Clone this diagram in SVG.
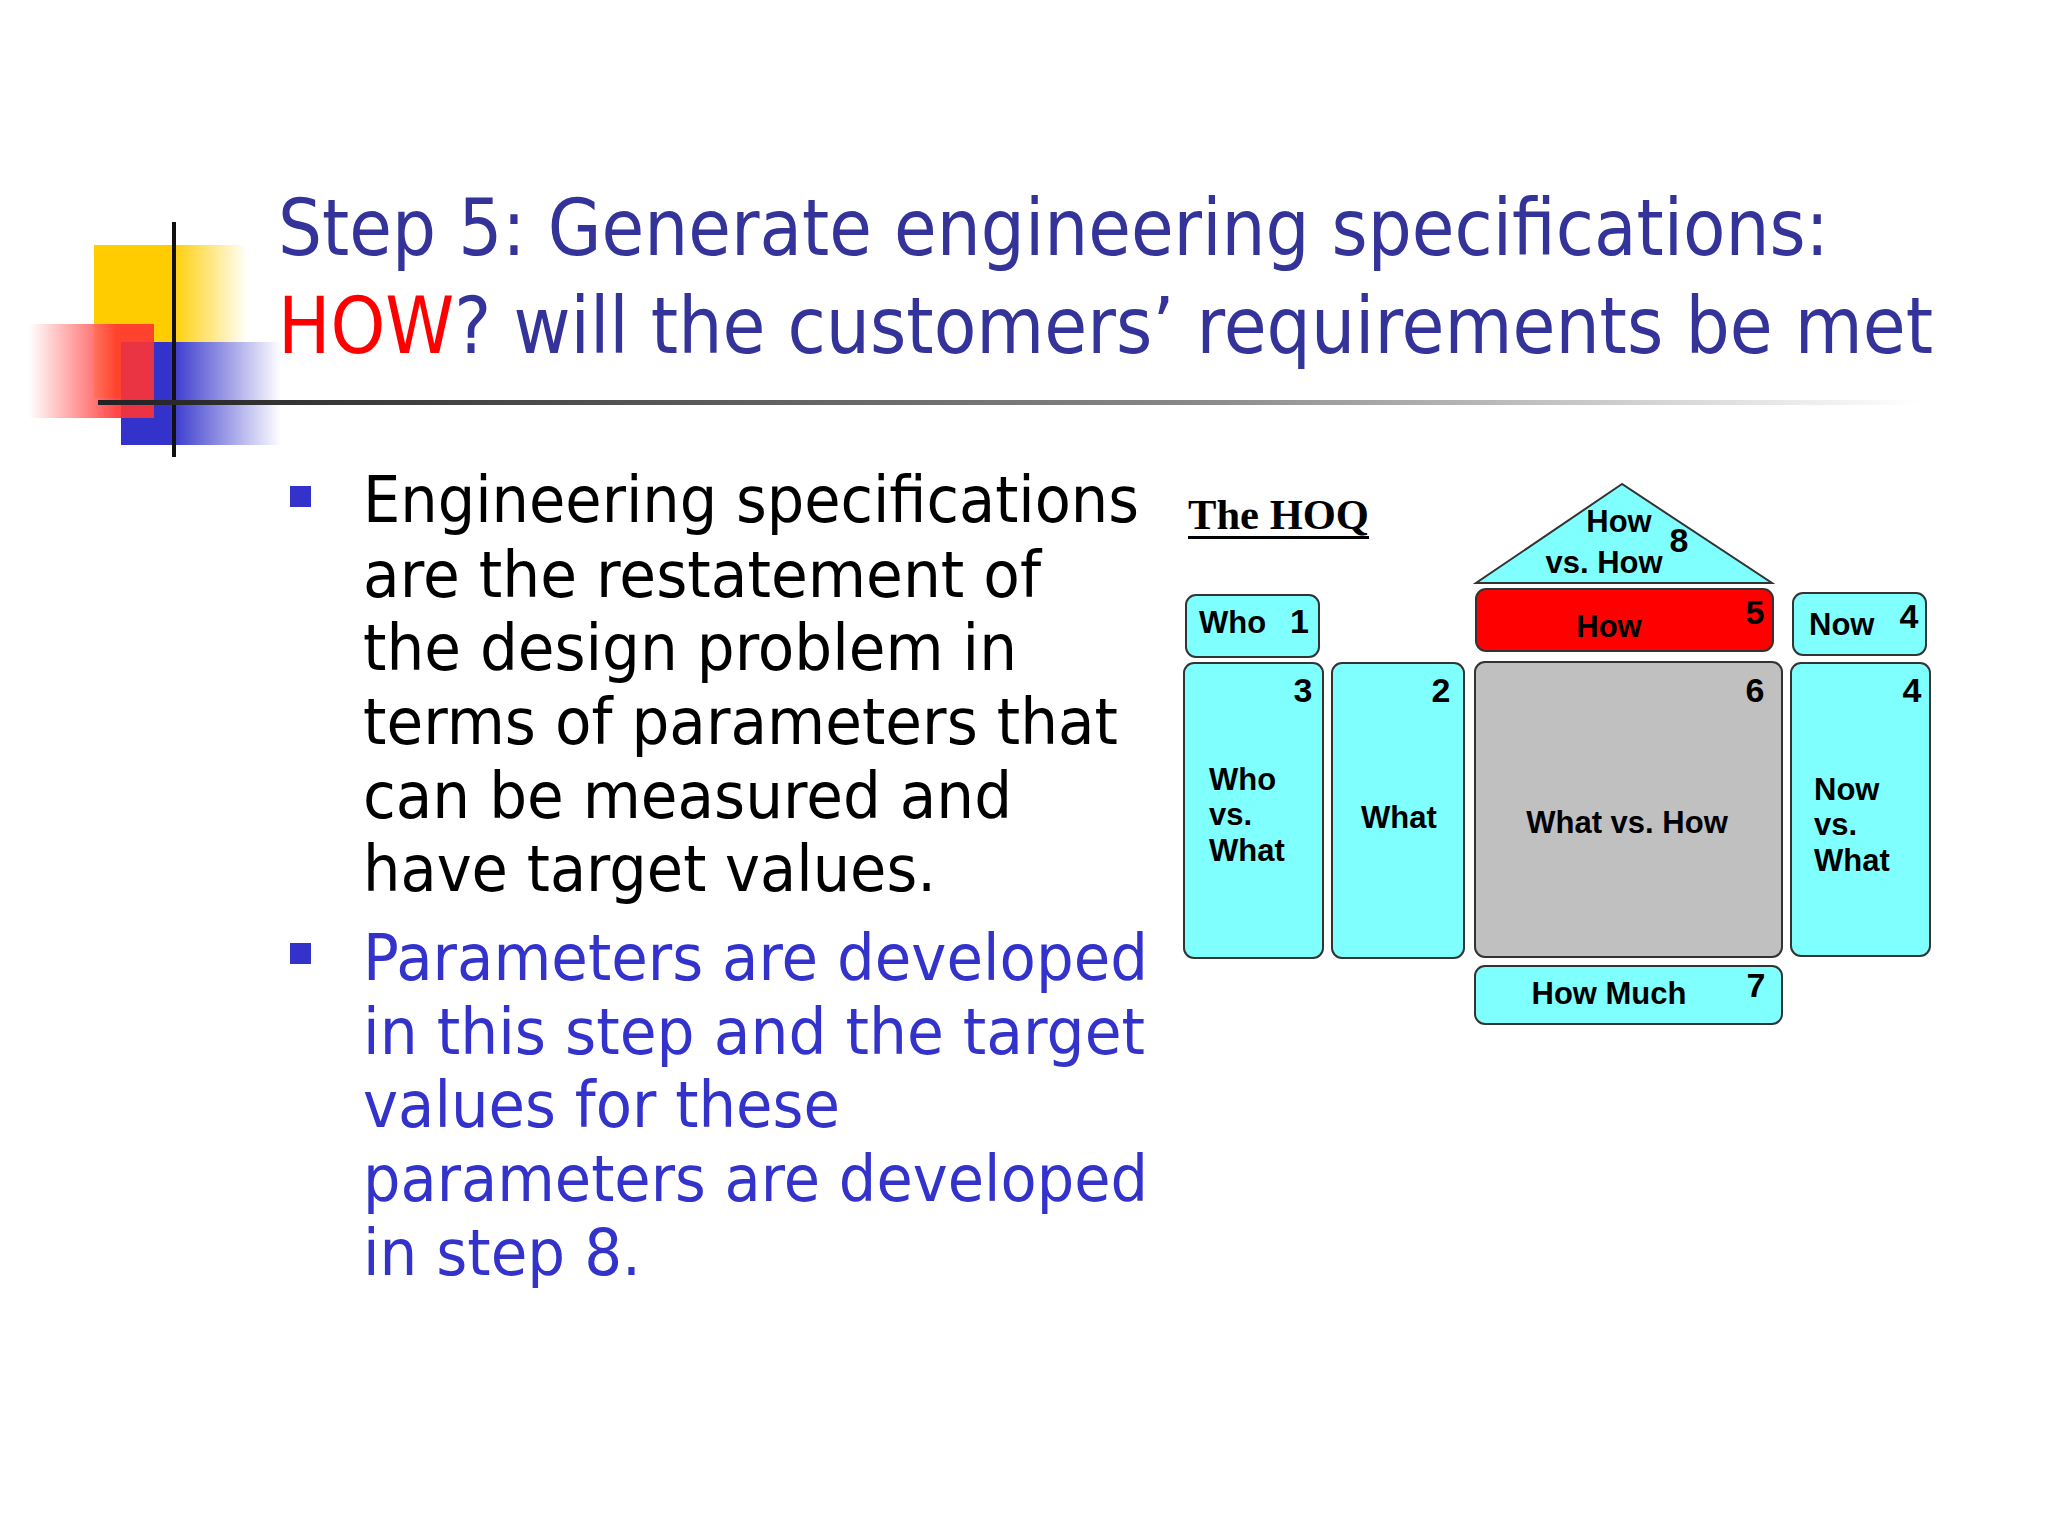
<svg xmlns="http://www.w3.org/2000/svg" width="2048" height="1536" viewBox="0 0 2048 1536">
<style>
.t{font-family:"DejaVu Sans","Noto Sans",sans-serif;font-size:78px;fill:#333399}
.b{font-family:"DejaVu Sans","Noto Sans",sans-serif;font-size:64px;fill:#000}
.b2{fill:#3333cc}
.box{fill:#80ffff;stroke:#333;stroke-width:2}
.h{font-family:"Liberation Sans",Arial,sans-serif;font-weight:bold;font-size:31px;fill:#000}
.n{font-family:"Liberation Sans",Arial,sans-serif;font-weight:bold;font-size:34px;fill:#000}
</style>
<defs>
<linearGradient id="gl" x1="0" x2="1"><stop offset="0" stop-color="#222"/><stop offset="0.6" stop-color="#888"/><stop offset="1" stop-color="#fff"/></linearGradient>
<linearGradient id="gy" x1="0" x2="1"><stop offset="0.5" stop-color="#ffcc00"/><stop offset="1" stop-color="#fff"/></linearGradient>
<linearGradient id="gr" x1="1" x2="0"><stop offset="0.3" stop-color="#ff3333"/><stop offset="1" stop-color="#fff"/></linearGradient>
<linearGradient id="gb" x1="0" x2="1"><stop offset="0.3" stop-color="#3333cc"/><stop offset="1" stop-color="#fff"/></linearGradient>
</defs>
<rect width="2048" height="1536" fill="#fff"/>
<g id="decor">
<rect x="94" y="245" width="154" height="153" fill="url(#gy)"/>
<rect x="121" y="342" width="160" height="103" fill="url(#gb)"/>
<rect x="29" y="324" width="125" height="94" fill="url(#gr)" opacity="0.9"/>
<rect x="172" y="222" width="4" height="235" fill="#111"/>
<rect x="98" y="400" width="1822" height="5" fill="url(#gl)"/>
</g>
<g id="title">
<text class="t" x="278" y="255" textLength="1551" lengthAdjust="spacingAndGlyphs">Step 5: Generate engineering specifications:</text>
<text class="t" x="278" y="353" textLength="1655" lengthAdjust="spacingAndGlyphs"><tspan fill="#ff0000">HOW</tspan>? will the customers’ requirements be met</text>
</g>
<g id="bullets">
<rect x="290" y="486" width="21" height="21" fill="#3333cc"/>
<rect x="290" y="943" width="21" height="21" fill="#3333cc"/>
<text class="b" x="363" y="522" textLength="776" lengthAdjust="spacingAndGlyphs">Engineering specifications</text>
<text class="b" x="363" y="597" textLength="678" lengthAdjust="spacingAndGlyphs">are the restatement of</text>
<text class="b" x="363" y="670" textLength="654" lengthAdjust="spacingAndGlyphs">the design problem in</text>
<text class="b" x="363" y="744" textLength="755" lengthAdjust="spacingAndGlyphs">terms of parameters that</text>
<text class="b" x="363" y="818" textLength="649" lengthAdjust="spacingAndGlyphs">can be measured and</text>
<text class="b" x="363" y="891" textLength="573" lengthAdjust="spacingAndGlyphs">have target values.</text>
<text class="b b2" x="363" y="980" textLength="785" lengthAdjust="spacingAndGlyphs">Parameters are developed</text>
<text class="b b2" x="363" y="1054" textLength="782" lengthAdjust="spacingAndGlyphs">in this step and the target</text>
<text class="b b2" x="363" y="1127" textLength="477" lengthAdjust="spacingAndGlyphs">values for these</text>
<text class="b b2" x="363" y="1201" textLength="785" lengthAdjust="spacingAndGlyphs">parameters are developed</text>
<text class="b b2" x="363" y="1275" textLength="278" lengthAdjust="spacingAndGlyphs">in step 8.</text>
</g>
<g id="hoq-title">
<text x="1188" y="529" font-family="Liberation Serif,serif" font-weight="bold" font-size="42" textLength="181" lengthAdjust="spacingAndGlyphs">The HOQ</text>
<rect x="1188" y="536" width="181" height="3" fill="#000"/>
</g>
<g id="n8"><polygon points="1622,484 1476,583 1772,583" class="box"/>
<text class="h" x="1619" y="532" text-anchor="middle">How</text>
<text class="h" x="1604" y="573" text-anchor="middle">vs. How</text>
<text class="n" x="1679" y="552" text-anchor="middle">8</text></g>
<g id="n1"><rect x="1186" y="595" width="133" height="62" rx="10" class="box"/>
<text class="h" x="1199" y="633">Who</text><text class="n" x="1309" y="633" text-anchor="end">1</text></g>
<g id="n5"><rect x="1476" y="589" width="297" height="62" rx="10" fill="#ff0000" stroke="#333" stroke-width="2"/>
<text class="h" x="1609" y="637" text-anchor="middle">How</text><text class="n" x="1755" y="624" text-anchor="middle">5</text></g>
<g id="n4a"><rect x="1793" y="593" width="133" height="62" rx="10" class="box"/>
<text class="h" x="1809" y="635">Now</text><text class="n" x="1909" y="628" text-anchor="middle">4</text></g>
<g id="n3"><rect x="1184" y="663" width="139" height="295" rx="10" class="box"/>
<text class="n" x="1303" y="702" text-anchor="middle">3</text>
<text class="h" x="1209" y="790">Who</text><text class="h" x="1209" y="825">vs.</text><text class="h" x="1209" y="861">What</text></g>
<g id="n2"><rect x="1332" y="663" width="132" height="295" rx="10" class="box"/>
<text class="n" x="1441" y="702" text-anchor="middle">2</text>
<text class="h" x="1399" y="828" text-anchor="middle">What</text></g>
<g id="n6"><rect x="1475" y="662" width="307" height="295" rx="10" fill="#c0c0c0" stroke="#333" stroke-width="2"/>
<text class="n" x="1755" y="702" text-anchor="middle">6</text>
<text class="h" x="1627" y="833" text-anchor="middle">What vs. How</text></g>
<g id="n4b"><rect x="1791" y="663" width="139" height="293" rx="10" class="box"/>
<text class="n" x="1912" y="702" text-anchor="middle">4</text>
<text class="h" x="1814" y="800">Now</text><text class="h" x="1814" y="835">vs.</text><text class="h" x="1814" y="871">What</text></g>
<g id="n7"><rect x="1475" y="966" width="307" height="58" rx="10" class="box"/>
<text class="h" x="1609" y="1004" text-anchor="middle">How Much</text><text class="n" x="1756" y="997" text-anchor="middle">7</text></g>
<g id="connectors"/>
</svg>
